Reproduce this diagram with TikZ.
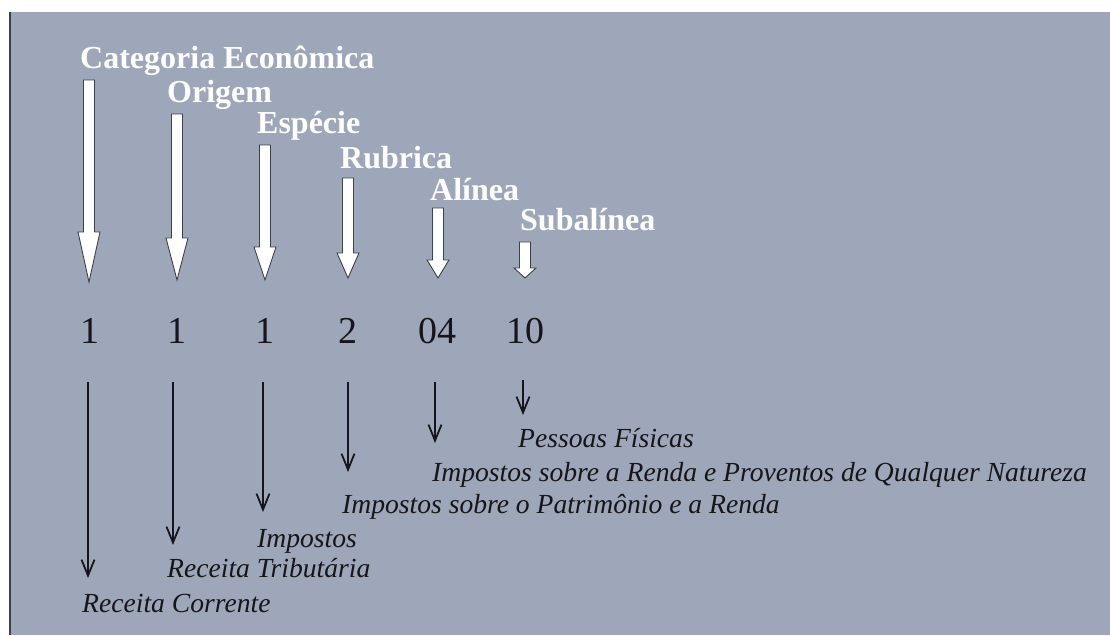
\documentclass[tikz,border=0pt]{standalone}
\usepackage{fontspec}
\setmainfont{Liberation Serif}
\usetikzlibrary{arrows.meta}
\definecolor{panel}{RGB}{158,167,186}
\definecolor{edge}{RGB}{60,64,72}
\definecolor{ink}{RGB}{22,22,26}
% white block arrow: #1 x centre, #2 top y, #3 tip y, #4 head length
\newcommand\whitearrow[4]{%
  \draw[warr] (#1-5.5,#2) -- (#1+5.5,#2) -- (#1+5.5,#3-#4) -- (#1+11,#3-#4)
    -- (#1,#3) -- (#1-11,#3-#4) -- (#1-5.5,#3-#4) -- cycle;}
\begin{document}
\begin{tikzpicture}[x=1pt,y=-1pt,
  lab/.style={inner sep=0pt, anchor=base west, text=white,
    font=\fontsize{32}{36}\selectfont\bfseries},
  num/.style={inner sep=0pt, anchor=base, text=ink,
    font=\fontsize{38}{40}\selectfont},
  desc/.style={inner sep=0pt, anchor=base west, text=ink,
    font=\fontsize{27.6}{30}\selectfont\itshape},
  warr/.style={draw=edge, fill=white, line width=0.9pt, line join=miter},
  blackarr/.style={draw=ink, line width=1.4pt,
    -{Straight Barb[length=16pt,width=13pt,line width=1.8pt]}}]
\useasboundingbox (0,0) rectangle (1110,635);
\fill[white] (0,0) rectangle (1110,635);
\fill[panel] (10,12) rectangle (1110,635);
\draw[edge, line width=2pt] (10,12) -- (10,635);

% header labels
\node[lab] (categoria) at (80,68)  {Categoria Econômica};
\node[lab] (origem)    at (167,102) {Origem};
\node[lab] (especie)   at (257,133) {Espécie};
\node[lab] (rubrica)   at (340,168) {Rubrica};
\node[lab] (alinea)    at (430,200) {Alínea};
\node[lab] (subalinea) at (520,230) {Subalínea};

% white arrows
\whitearrow{89}{80}{282}{50}
\whitearrow{177}{114}{280}{42}
\whitearrow{265}{145}{280}{33}
\whitearrow{348}{178}{278}{25}
\whitearrow{438}{208}{278}{18}
\whitearrow{525}{242}{278}{10}

% code digits
\node[num] (n1) at (90,343)  {1};
\node[num] (n2) at (177,343) {1};
\node[num] (n3) at (265,343) {1};
\node[num] (n4) at (348,343) {2};
\node[num] (n5) at (437,343) {04};
\node[num] (n6) at (525,343) {10};

% descriptions
\node[desc] (d6) at (518,447) {Pessoas Físicas};
\node[desc] (d5) at (432,481) {Impostos sobre a Renda e Proventos de Qualquer Natureza};
\node[desc] (d4) at (342,513) {Impostos sobre o Patrimônio e a Renda};
\node[desc] (d3) at (257,547) {Impostos};
\node[desc] (d2) at (167,577) {Receita Tributária};
\node[desc] (d1) at (82,612)  {Receita Corrente};

% connector ends
\coordinate (s1) at (88,382);  \coordinate (e1) at (88,578);
\coordinate (s2) at (173,382); \coordinate (e2) at (173,545);
\coordinate (s3) at (263,382); \coordinate (e3) at (263,512);
\coordinate (s4) at (348,382); \coordinate (e4) at (348,472);
\coordinate (s5) at (435,382); \coordinate (e5) at (435,443);
\coordinate (s6) at (523,380); \coordinate (e6) at (523,415);
\foreach \i in {1,...,6} {\draw[blackarr] (s\i) -- (e\i);}
\end{tikzpicture}
\end{document}
